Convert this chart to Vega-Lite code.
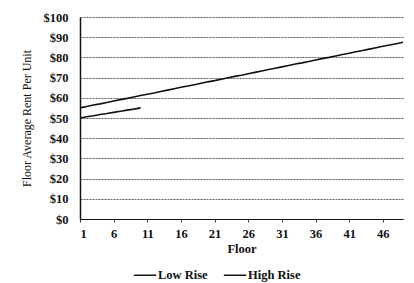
{
  "$schema": "https://vega.github.io/schema/vega-lite/v6.json",
  "width": 323,
  "height": 202,
  "autosize": {"type": "none"},
  "padding": {"left": 80, "top": 17, "right": 11, "bottom": 64},
  "background": "white",
  "data": {
    "values": [
      {"floor": 1, "rent": 50.0, "type": "Low Rise"},
      {"floor": 2, "rent": 50.6, "type": "Low Rise"},
      {"floor": 3, "rent": 51.1, "type": "Low Rise"},
      {"floor": 4, "rent": 51.7, "type": "Low Rise"},
      {"floor": 5, "rent": 52.2, "type": "Low Rise"},
      {"floor": 6, "rent": 52.8, "type": "Low Rise"},
      {"floor": 7, "rent": 53.3, "type": "Low Rise"},
      {"floor": 8, "rent": 53.9, "type": "Low Rise"},
      {"floor": 9, "rent": 54.4, "type": "Low Rise"},
      {"floor": 10, "rent": 55.0, "type": "Low Rise"},
      {"floor": 1, "rent": 55.0, "type": "High Rise"},
      {"floor": 2, "rent": 55.7, "type": "High Rise"},
      {"floor": 3, "rent": 56.4, "type": "High Rise"},
      {"floor": 4, "rent": 57.0, "type": "High Rise"},
      {"floor": 5, "rent": 57.7, "type": "High Rise"},
      {"floor": 6, "rent": 58.4, "type": "High Rise"},
      {"floor": 7, "rent": 59.1, "type": "High Rise"},
      {"floor": 8, "rent": 59.7, "type": "High Rise"},
      {"floor": 9, "rent": 60.4, "type": "High Rise"},
      {"floor": 10, "rent": 61.1, "type": "High Rise"},
      {"floor": 11, "rent": 61.8, "type": "High Rise"},
      {"floor": 12, "rent": 62.4, "type": "High Rise"},
      {"floor": 13, "rent": 63.1, "type": "High Rise"},
      {"floor": 14, "rent": 63.8, "type": "High Rise"},
      {"floor": 15, "rent": 64.5, "type": "High Rise"},
      {"floor": 16, "rent": 65.2, "type": "High Rise"},
      {"floor": 17, "rent": 65.8, "type": "High Rise"},
      {"floor": 18, "rent": 66.5, "type": "High Rise"},
      {"floor": 19, "rent": 67.2, "type": "High Rise"},
      {"floor": 20, "rent": 67.9, "type": "High Rise"},
      {"floor": 21, "rent": 68.5, "type": "High Rise"},
      {"floor": 22, "rent": 69.2, "type": "High Rise"},
      {"floor": 23, "rent": 69.9, "type": "High Rise"},
      {"floor": 24, "rent": 70.6, "type": "High Rise"},
      {"floor": 25, "rent": 71.2, "type": "High Rise"},
      {"floor": 26, "rent": 71.9, "type": "High Rise"},
      {"floor": 27, "rent": 72.6, "type": "High Rise"},
      {"floor": 28, "rent": 73.3, "type": "High Rise"},
      {"floor": 29, "rent": 74.0, "type": "High Rise"},
      {"floor": 30, "rent": 74.6, "type": "High Rise"},
      {"floor": 31, "rent": 75.3, "type": "High Rise"},
      {"floor": 32, "rent": 76.0, "type": "High Rise"},
      {"floor": 33, "rent": 76.7, "type": "High Rise"},
      {"floor": 34, "rent": 77.3, "type": "High Rise"},
      {"floor": 35, "rent": 78.0, "type": "High Rise"},
      {"floor": 36, "rent": 78.7, "type": "High Rise"},
      {"floor": 37, "rent": 79.4, "type": "High Rise"},
      {"floor": 38, "rent": 80.0, "type": "High Rise"},
      {"floor": 39, "rent": 80.7, "type": "High Rise"},
      {"floor": 40, "rent": 81.4, "type": "High Rise"},
      {"floor": 41, "rent": 82.1, "type": "High Rise"},
      {"floor": 42, "rent": 82.8, "type": "High Rise"},
      {"floor": 43, "rent": 83.4, "type": "High Rise"},
      {"floor": 44, "rent": 84.1, "type": "High Rise"},
      {"floor": 45, "rent": 84.8, "type": "High Rise"},
      {"floor": 46, "rent": 85.5, "type": "High Rise"},
      {"floor": 47, "rent": 86.1, "type": "High Rise"},
      {"floor": 48, "rent": 86.8, "type": "High Rise"},
      {"floor": 49, "rent": 87.5, "type": "High Rise"}
    ]
  },
  "mark": {"type": "line", "strokeWidth": 1.6},
  "encoding": {
    "x": {
      "field": "floor",
      "type": "quantitative",
      "title": "Floor",
      "scale": {"domain": [1, 49], "nice": false, "zero": false},
      "axis": {
        "values": [1, 6, 11, 16, 21, 26, 31, 36, 41, 46],
        "grid": false,
        "tickSize": 3,
        "tickColor": "#333",
        "domainColor": "#111",
        "domainWidth": 1.2,
        "labelPadding": 5,
        "titlePadding": 3,
        "labelFontSize": 12.5,
        "labelFontWeight": "bold",
        "titleFontSize": 12.5,
        "titleFontWeight": "bold"
      }
    },
    "y": {
      "field": "rent",
      "type": "quantitative",
      "title": "Floor Average Rent Per Unit",
      "scale": {"domain": [0, 100], "nice": false},
      "axis": {
        "values": [0, 10, 20, 30, 40, 50, 60, 70, 80, 90, 100],
        "format": "$,.0f",
        "grid": true,
        "gridColor": "#333",
        "gridWidth": 0.8,
        "gridDash": [2, 1],
        "tickSize": 0,
        "domainColor": "#111",
        "domainWidth": 1.5,
        "labelPadding": 12,
        "titlePadding": 10,
        "labelFontSize": 12.5,
        "labelFontWeight": "bold",
        "titleFontSize": 12,
        "titleFontWeight": "normal"
      }
    },
    "color": {
      "field": "type",
      "type": "nominal",
      "sort": ["Low Rise", "High Rise"],
      "scale": {"domain": ["Low Rise", "High Rise"], "range": ["#111", "#111"]},
      "legend": {
        "title": null,
        "orient": "none",
        "legendX": 53,
        "legendY": 246,
        "direction": "horizontal",
        "symbolType": "stroke",
        "symbolSize": 500,
        "symbolStrokeWidth": 1.5,
        "labelFontSize": 12.5,
        "labelFontWeight": "bold",
        "labelOffset": 1,
        "columnPadding": 12
      }
    }
  },
  "config": {
    "font": "Liberation Serif",
    "view": {"stroke": null},
    "axis": {"labelColor": "#111", "titleColor": "#111"},
    "legend": {"labelColor": "#111"}
  }
}
